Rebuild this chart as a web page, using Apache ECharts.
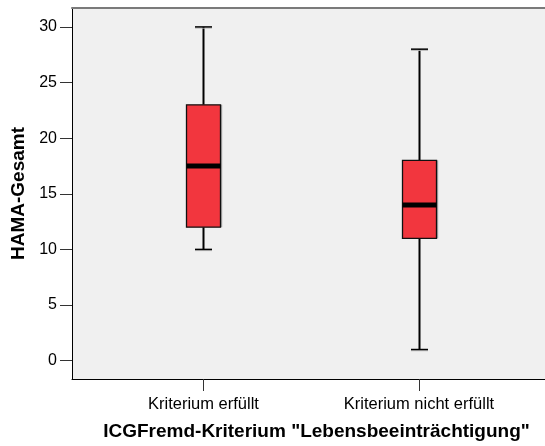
<!DOCTYPE html>
<html>
<head>
<meta charset="utf-8">
<script src="https://cdn.jsdelivr.net/npm/echarts@6/dist/echarts.min.js"></script>
<style>
  html, body { margin: 0; padding: 0; background: #ffffff; }
  #chart { width: 545px; height: 446px; }
</style>
</head>
<body>
<div id="chart"></div>
<script>
// HAMA total score by ICG criterion group (box plot)
const categories = ['Kriterium erfüllt', 'Kriterium nicht erfüllt'];
const whiskerLow = [10, 1];
const quartile1 = [12, 11];
const medians = [17.5, 14];
const quartile3 = [23, 18];
const whiskerHigh = [30, 28];
const yTicks = [0, 5, 10, 15, 20, 25, 30];

const FONT = '"Liberation Sans", Arial, sans-serif';
const BOX_FILL = '#F2363E';

const boxData = categories.map((c, i) => [
  i + 1, whiskerLow[i], quartile1[i], medians[i], quartile3[i], whiskerHigh[i]
]);

function renderBox(params, api) {
  const x = api.value(0);
  const pLow = api.coord([x, api.value(1)]);
  const pQ1 = api.coord([x, api.value(2)]);
  const pMed = api.coord([x, api.value(3)]);
  const pQ3 = api.coord([x, api.value(4)]);
  const pHigh = api.coord([x, api.value(5)]);
  const cx = Math.round(pMed[0]) + 0.5;
  const halfBox = 17;
  const halfCap = 8.5;
  const children = [];
  // whiskers
  children.push({ type: 'line', shape: { x1: cx, y1: pQ3[1], x2: cx, y2: pHigh[1] },
    style: { stroke: '#000', lineWidth: 2 } });
  children.push({ type: 'line', shape: { x1: cx, y1: pQ1[1], x2: cx, y2: pLow[1] },
    style: { stroke: '#000', lineWidth: 2 } });
  // caps with a faint grey shade
  [pHigh, pLow].forEach(p => {
    children.push({ type: 'line', shape: { x1: cx - halfCap, y1: p[1] + 1.2, x2: cx + halfCap, y2: p[1] + 1.2 },
      style: { stroke: '#b8b8b8', lineWidth: 1 } });
    children.push({ type: 'line', shape: { x1: cx - halfCap, y1: p[1], x2: cx + halfCap, y2: p[1] },
      style: { stroke: '#000', lineWidth: 1.5 } });
  });
  // box shade on right edge
  children.push({ type: 'line', shape: { x1: cx + halfBox + 1.2, y1: pQ3[1], x2: cx + halfBox + 1.2, y2: pQ1[1] },
    style: { stroke: '#9a9a9a', lineWidth: 1 } });
  // box
  children.push({ type: 'rect',
    shape: { x: cx - halfBox, y: pQ3[1], width: halfBox * 2, height: pQ1[1] - pQ3[1] },
    style: { fill: BOX_FILL, stroke: '#111', lineWidth: 1.3 } });
  // median
  children.push({ type: 'line', shape: { x1: cx - halfBox, y1: pMed[1], x2: cx + halfBox, y2: pMed[1] },
    style: { stroke: '#000', lineWidth: 5 } });
  return { type: 'group', children: children };
}

const chart = echarts.init(document.getElementById('chart'), null, { renderer: 'canvas' });
chart.setOption({
  animation: false,
  backgroundColor: '#ffffff',
  grid: {
    left: 72, top: 8, right: 0, bottom: 67,
    show: true, backgroundColor: '#F0F0F0', borderWidth: 0
  },
  xAxis: [{
    type: 'value',
    min: 0.39, max: 2.585,
    position: 'bottom',
    name: 'ICGFremd-Kriterium "Lebensbeeinträchtigung"',
    nameLocation: 'middle',
    nameGap: 43,
    nameTextStyle: { fontFamily: FONT, fontSize: 19, fontWeight: 'bold', color: '#000', padding: [0, 0, 0, 16] },
    axisLine: { show: true, onZero: false, lineStyle: { color: '#000', width: 1 } },
    axisTick: { show: true, length: 12, customValues: [1, 2], lineStyle: { color: '#333', width: 1 } },
    axisLabel: {
      show: true, customValues: [1, 2], margin: 17,
      fontFamily: FONT, fontSize: 16.5, color: '#000',
      formatter: v => categories[Math.round(v) - 1] || ''
    },
    splitLine: { show: false }
  }, {
    type: 'value',
    min: 0.39, max: 2.585,
    position: 'top',
    axisLine: { show: true, onZero: false, lineStyle: { color: '#7a7a7a', width: 2 } },
    axisTick: { show: false },
    axisLabel: { show: false },
    splitLine: { show: false }
  }],
  yAxis: {
    type: 'value',
    min: -1.65, max: 31.7,
    name: 'HAMA-Gesamt',
    nameLocation: 'middle',
    nameGap: 38,
    nameTextStyle: { fontFamily: FONT, fontSize: 19, fontWeight: 'bold', color: '#000' },
    axisLine: { show: true, onZero: false, lineStyle: { color: '#000', width: 1 } },
    axisTick: { show: true, length: 12, customValues: yTicks, lineStyle: { color: '#333', width: 1 } },
    axisLabel: {
      show: true, customValues: yTicks, margin: 15,
      fontFamily: FONT, fontSize: 16, color: '#000'
    },
    splitLine: { show: false }
  },
  series: [{
    type: 'custom',
    xAxisIndex: 0,
    yAxisIndex: 0,
    renderItem: renderBox,
    encode: { x: 0, y: [1, 2, 3, 4, 5] },
    data: boxData,
    clip: false
  }]
});
</script>
</body>
</html>
